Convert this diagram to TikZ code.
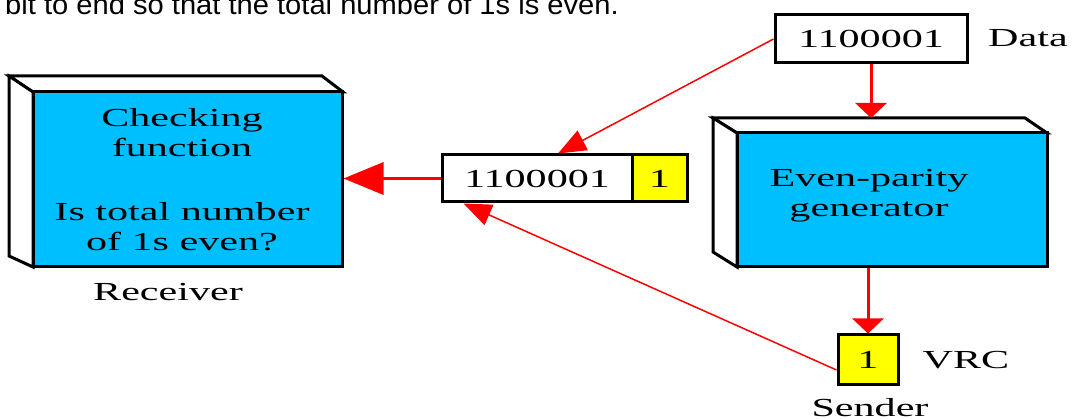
\documentclass[tikz,border=0pt]{standalone}
\usepackage{fontspec}
\setmainfont{Liberation Serif}
\newfontfamily\sr[FakeStretch=1.62]{Liberation Serif}
\newfontfamily\ssx[FakeStretch=1.04]{Liberation Sans}
\usetikzlibrary{arrows.meta,calc}
\definecolor{sky}{RGB}{0,191,255}
\definecolor{yel}{RGB}{255,255,0}
\begin{document}
\begin{tikzpicture}[x=1pt,y=1pt,
  box/.style={draw=black,line width=3pt,inner sep=0pt},
  face/.style={box,fill=sky},
  panel/.style={draw=black,line width=3pt,fill=white,line join=miter},
  txt/.style={font=\sr\fontsize{26}{30}\selectfont,inner sep=0pt,align=center},
  thinarrow/.style={draw=red,line width=1.5pt,-{Triangle[length=28pt,width=22pt]}},
  vertarrow/.style={draw=red,line width=3pt,-{Triangle[length=15pt,width=31pt]}},
  bigarrow/.style={draw=red,line width=3.5pt,-{Triangle[length=40pt,width=32pt]}}]
\useasboundingbox (0,0) rectangle (1072,-419);

% top caption (cut off)
\node[anchor=base west,inner sep=0pt,font=\ssx\fontsize{28}{30}\selectfont] (cap) at (5,-14.5) {bit to end so that the total number of 1s is even.};

% Receiver box
\path[panel] (33,-92) -- (9,-76) -- (322,-76) -- (343,-92) -- cycle;
\path[panel] (33,-92) -- (9,-76) -- (9,-256) -- (33,-267) -- cycle;
\node[face,minimum width=309,minimum height=175] (recf) at (187.5,-179.5) {};
\node[txt] (rectext) at (182,-180) {Checking\\function\\[34pt]Is total number\\of 1s even?};
\node[txt] (receiver) at (168,-292) {Receiver};

% Generator box
\path[panel] (737,-133) -- (713,-118) -- (1025,-118) -- (1047,-133) -- cycle;
\path[panel] (737,-133) -- (713,-118) -- (713,-252) -- (737,-267) -- cycle;
\coordinate (gtop) at (870,-118);
\node[face,minimum width=310,minimum height=134] (genf) at (892,-200) {};
\node[txt] (gentext) at (869,-196) {Even-parity\\generator};

% Data box
\node[box,fill=white,minimum width=192,minimum height=48,font=\sr\fontsize{26}{30}\selectfont] (data) at (871,-39) {1100001};
\node[txt,anchor=west] (datalbl) at (988,-38) {Data};

% Transmitted unit
\node[box,fill=white,minimum width=190,minimum height=47,font=\sr\fontsize{26}{30}\selectfont] (msg) at (537,-178.5) {1100001};
\node[box,fill=yel,minimum width=55,minimum height=47,font=\sr\fontsize{26}{30}\selectfont] (par) at (659.5,-178.5) {1};

% VRC
\node[box,fill=yel,minimum width=60,minimum height=50,font=\sr\fontsize{26}{30}\selectfont] (vrc) at (868,-360) {1};
\node[txt] (vrclbl) at (966,-360) {VRC};
\node[txt] (sender) at (870,-408) {Sender};

% connectors
\draw[vertarrow] (data.south) -- (data.south |- gtop);
\draw[vertarrow] (vrc.north |- genf.south) -- (vrc.north);
\draw[thinarrow] (data.west) -- ([xshift=117.5pt]msg.north west);
\draw[thinarrow] ([yshift=-10pt]vrc.west) -- ([xshift=23pt]msg.south west);
\draw[bigarrow] (msg.west) -- (msg.west -| recf.east);
\end{tikzpicture}
\end{document}
